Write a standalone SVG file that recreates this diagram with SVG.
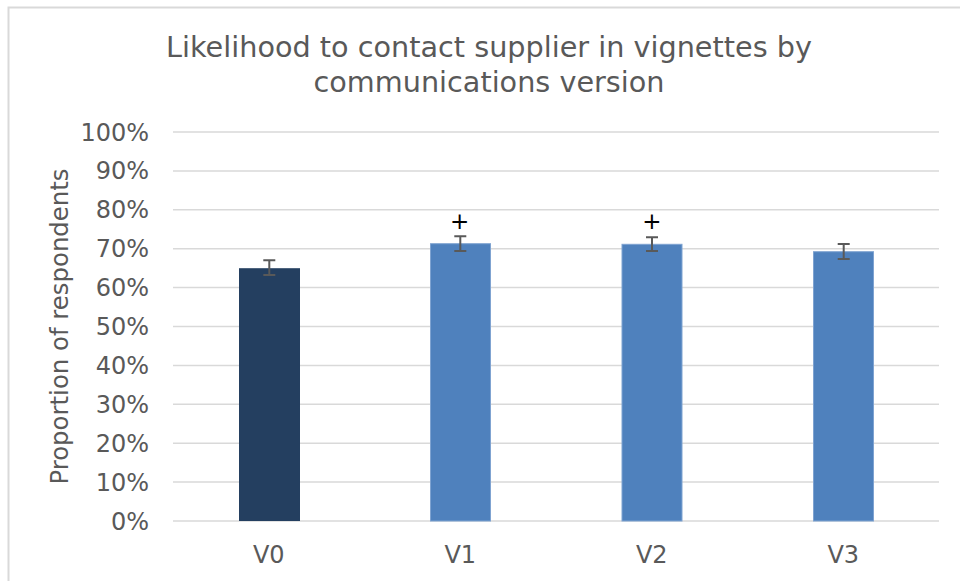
<svg xmlns="http://www.w3.org/2000/svg" width="960" height="581" viewBox="0 0 960 581">
  <style>
    .txt { font-family: "DejaVu Sans", Verdana, sans-serif; fill: #595959; }
    .title { font-size: 28.7px; }
    .tick { font-size: 24px; text-anchor: end; }
    .cat { font-size: 24px; text-anchor: middle; }
    .grid { stroke: #D9D9D9; stroke-width: 1.5; }
    .bar-dark { fill: #243F60; }
    .bar { fill: #4F81BD; stroke: #7FA3D1; stroke-width: 1; }
    .err { stroke: #595959; stroke-width: 2; fill: none; }
    .sig { font-family: "DejaVu Sans", Verdana, sans-serif; font-size: 23px; fill: #000; text-anchor: middle; }
  </style>

  <!-- chart area frame -->
  <rect x="0" y="0" width="960" height="581" fill="#FFFFFF"/>
  <rect x="8.5" y="7.5" width="980" height="600" fill="#FFFFFF" stroke="#D9D9D9" stroke-width="2"/>

  <!-- title -->
  <g id="title" class="txt title">
    <text x="489" y="57" text-anchor="middle">Likelihood to contact supplier in vignettes by</text>
    <text x="489" y="92" text-anchor="middle">communications version</text>
  </g>

  <!-- value axis gridlines -->
  <g id="gridlines">
    <line class="grid" x1="173" y1="132" x2="939" y2="132"/>
    <line class="grid" x1="173" y1="170.9" x2="939" y2="170.9"/>
    <line class="grid" x1="173" y1="209.8" x2="939" y2="209.8"/>
    <line class="grid" x1="173" y1="248.7" x2="939" y2="248.7"/>
    <line class="grid" x1="173" y1="287.6" x2="939" y2="287.6"/>
    <line class="grid" x1="173" y1="326.5" x2="939" y2="326.5"/>
    <line class="grid" x1="173" y1="365.4" x2="939" y2="365.4"/>
    <line class="grid" x1="173" y1="404.3" x2="939" y2="404.3"/>
    <line class="grid" x1="173" y1="443.2" x2="939" y2="443.2"/>
    <line class="grid" x1="173" y1="482.1" x2="939" y2="482.1"/>
    <line class="grid" x1="173" y1="521" x2="939" y2="521"/>
  </g>

  <!-- value axis labels -->
  <g id="value-axis" class="txt tick">
    <text x="149" y="140.5">100%</text>
    <text x="149" y="179.4">90%</text>
    <text x="149" y="218.3">80%</text>
    <text x="149" y="257.2">70%</text>
    <text x="149" y="296.1">60%</text>
    <text x="149" y="335">50%</text>
    <text x="149" y="373.9">40%</text>
    <text x="149" y="412.8">30%</text>
    <text x="149" y="451.7">20%</text>
    <text x="149" y="490.6">10%</text>
    <text x="149" y="529.5">0%</text>
  </g>

  <!-- value axis title -->
  <g id="axis-title" class="txt">
    <text transform="translate(68,326.5) rotate(-90)" text-anchor="middle" font-size="24.4">Proportion of respondents</text>
  </g>

  <!-- bars -->
  <g id="bar-v0">
    <rect class="bar-dark" x="239" y="268.2" width="61" height="252.8"/>
  </g>
  <g id="bar-v1">
    <rect class="bar" x="430.5" y="243.7" width="60" height="277.3"/>
  </g>
  <g id="bar-v2">
    <rect class="bar" x="622" y="244.3" width="60" height="276.7"/>
  </g>
  <g id="bar-v3">
    <rect class="bar" x="813.5" y="251.7" width="60" height="269.3"/>
  </g>

  <!-- error bars -->
  <g id="error-bars" class="err">
    <path d="M269.3 260.3 V275 M263.3 260.3 H275.3 M263.3 275 H275.3"/>
    <path d="M460.3 236.3 V251 M454.3 236.3 H466.3 M454.3 251 H466.3"/>
    <path d="M652 237.3 V251 M646 237.3 H658 M646 251 H658"/>
    <path d="M843.7 244 V259 M837.7 244 H849.7 M837.7 259 H849.7"/>
  </g>

  <!-- significance markers -->
  <g id="significance">
    <text class="sig" x="459.7" y="228.5">+</text>
    <text class="sig" x="652" y="228.5">+</text>
  </g>

  <!-- category axis labels -->
  <g id="category-axis" class="txt cat">
    <text x="268.8" y="563">V0</text>
    <text x="460.3" y="563">V1</text>
    <text x="651.8" y="563">V2</text>
    <text x="843.3" y="563">V3</text>
  </g>
</svg>
